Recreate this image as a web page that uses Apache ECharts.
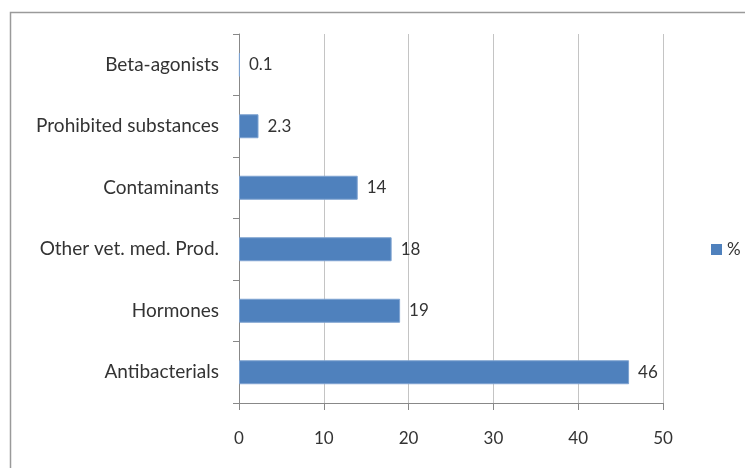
<!DOCTYPE html>
<html><head><meta charset="utf-8">
<script src="https://cdn.jsdelivr.net/npm/echarts@6/dist/echarts.min.js"></script>
<style>html,body{margin:0;padding:0;background:#fff}#c{width:745px;height:468px}</style>
</head><body><div id="c"></div>
<script>
var categories = ['Antibacterials','Hormones','Other vet. med. Prod.','Contaminants','Prohibited substances','Beta-agonists'];
var values = [46, 19, 18, 14, 2.3, 0.1];
var seriesName = '%';
var xTicks = [0, 10, 20, 30, 40, 50];

var chart = echarts.init(document.getElementById('c'), null, {renderer:'canvas'});
var font = 'Lato, "Liberation Sans", sans-serif';
chart.setOption({
  animation: false,
  textStyle: {fontFamily: font},
  graphic: [{type:'rect', silent:true, shape:{x:10.5,y:12.5,width:800,height:500}, style:{fill:'none', stroke:'#9a9a9a', lineWidth:1.5}}],
  legend: {data:[{name:seriesName, icon:'rect'}], orient:'vertical', left:706, top:236, itemWidth:11, itemHeight:11, itemGap:5,
    itemStyle:{borderWidth:0},
    textStyle:{fontFamily:font, fontSize:17, color:'#333'}},
  grid: {left:239, top:34, right:82, bottom:65, containLabel:false},
  xAxis: {type:'value', min:xTicks[0], max:xTicks[xTicks.length-1], interval:10,
    axisLine:{show:true, lineStyle:{color:'#888'}},
    axisTick:{show:true, length:7, lineStyle:{color:'#888'}},
    axisLabel:{fontFamily:font, fontSize:17, color:'#333', margin:27},
    splitLine:{show:true, lineStyle:{color:'#c4c4c4', width:1}}},
  yAxis: {type:'category', data:categories,
    axisLine:{show:true, lineStyle:{color:'#888'}},
    axisTick:{show:true, length:6, lineStyle:{color:'#888'}},
    axisLabel:{fontFamily:font, fontSize:19, color:'#333', margin:20}},
  series: [{name:seriesName, type:'bar', data:values, barWidth:'39%',
    itemStyle:{color:'#4f81bd', borderColor:'#7ea3d1', borderWidth:1},
    label:{show:true, position:'right', distance:9, fontFamily:font, fontSize:17, color:'#333'}}]
});
</script></body></html>
